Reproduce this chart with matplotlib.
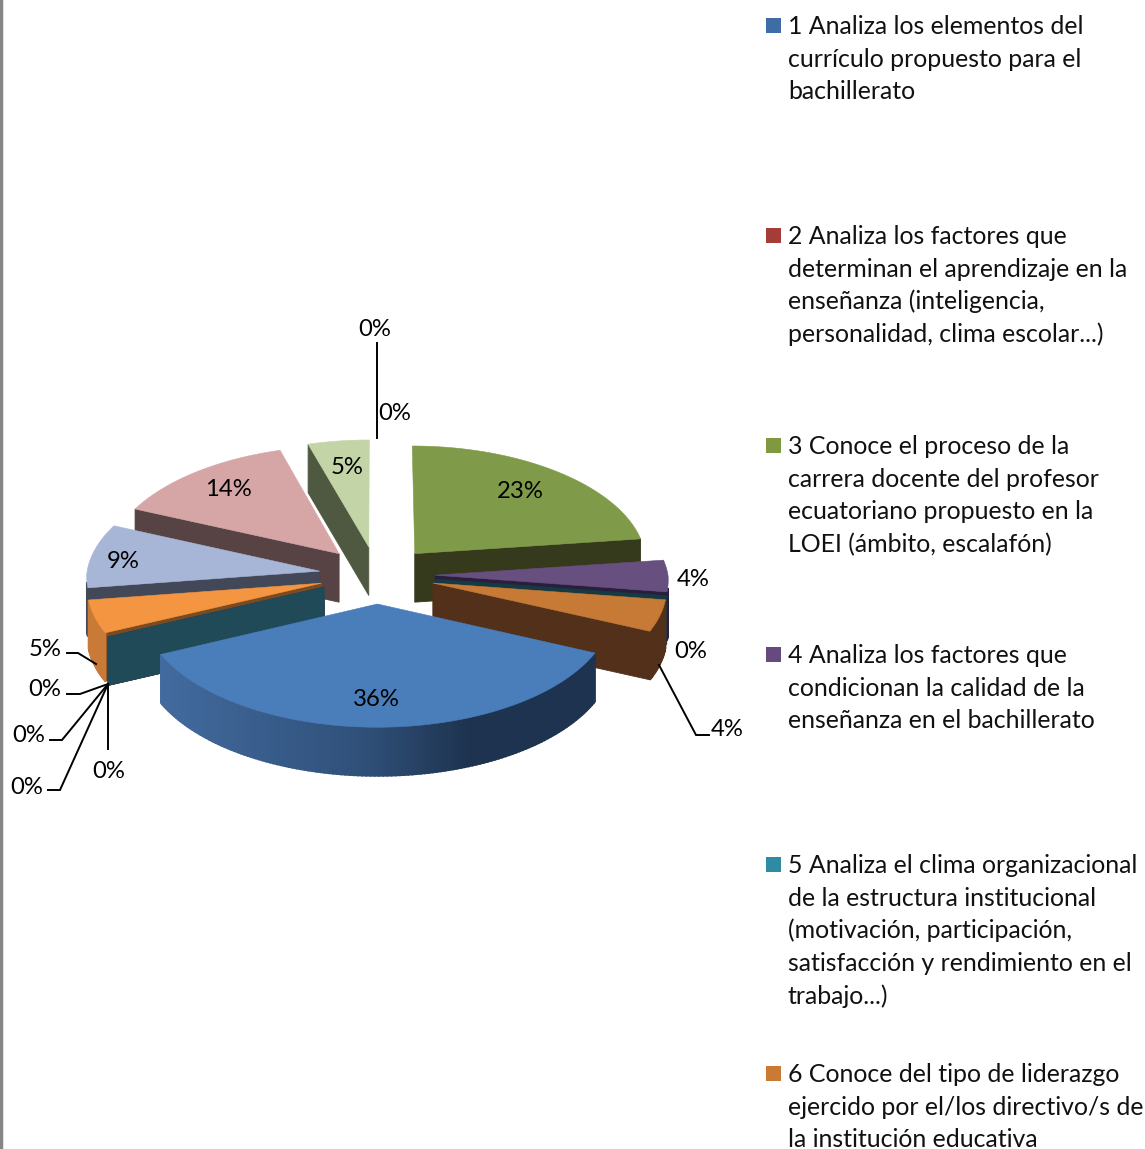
#!/usr/bin/env python
import numpy as np
import matplotlib
matplotlib.use('Agg')
import matplotlib.pyplot as plt
from matplotlib.colors import to_rgb

plt.rcParams['font.family'] = ['Lato', 'DejaVu Sans']

# ====================================
# Data, in the order of the legend series
# ====================================
values = [0, 0, 22.9, 4.4, 0, 4.4, 36.4, 0, 0, 0, 0, 4.6, 8.9, 13.8, 4.6]

top_colors = ['#4f81bd', '#c0504d', '#7f9a48', '#674f80', '#2f8aa3', '#c77a36', '#4a7ebb', '#c0504d',
              '#9bbb59', '#8064a2', '#2f6f80', '#f39541', '#a7b6d6', '#d6a5a5', '#c3d4a7']
wall_colors = ['#2a4563', '#632a28', '#343a1b', '#2a1e3d', '#153a44', '#52301a', '#1e334f', '#632a28',
               '#4a5a2a', '#40325a', '#204a58', '#7a4a20', '#424857', '#574343', '#4f5840']
arc_colors = list(wall_colors)
arc_colors[11] = '#c87a36'

legend_colors = ['#3f6ca5', '#a63c38', '#80993f', '#65497f', '#2f8aa3', '#c97a35']
legend_labels = [
    ['1 Analiza los elementos del', 'currículo propuesto para el', 'bachillerato'],
    ['2 Analiza los factores que', 'determinan el aprendizaje en la', 'enseñanza (inteligencia,',
     'personalidad, clima escolar...)'],
    ['3 Conoce el proceso de la', 'carrera docente del profesor', 'ecuatoriano propuesto en la',
     'LOEI (ámbito, escalafón)'],
    ['4 Analiza los factores que', 'condicionan la calidad de la', 'enseñanza en el bachillerato'],
    ['5 Analiza el clima organizacional', 'de la estructura institucional', '(motivación, participación,',
     'satisfacción y rendimiento en el', 'trabajo...)'],
    ['6 Conoce del tipo de liderazgo', 'ejercido por el/los directivo/s de', 'la institución educativa'],
]
legend_y = [25, 235, 445, 654, 864, 1073]

# label centres, same order as values
label_xy = [(375, 329), (395, 413), (520, 491), (693, 579), (691, 651), (727, 729), (376, 699), (109, 772),
            (27, 787), (29, 735), (45, 689), (45, 649), (123, 561), (228, 490), (347, 467)]

leaders = [
    [(67, 653), (78, 653), (96, 664)],
    [(67, 694), (80, 694), (108, 684)],
    [(50, 740), (62, 740), (108, 684)],
    [(48, 790), (60, 790), (108, 684)],
    [(108, 749), (108, 684)],
    [(709, 735), (696, 735), (659, 665)],
    [(377, 343), (377, 438)],
]

# ====================================
# Pie geometry
# ====================================
cx, cy = 377, 575
radius = 233
explode = 58
depth = 48.5
font_size = 17.2
legend_font_size = 17.9


def project(X, Y, drop=0):
    # plane coordinates to screen, slight perspective
    X = np.asarray(X, dtype=float)
    Y = np.asarray(Y, dtype=float)
    shrink = np.where(Y > 0, 0.00028, 0.00015)
    return cx + X*(1 - shrink*Y), cy - Y*(0.494 - 0.0001*Y) + drop


def arc_points(a0, a1, ox, oy):
    th = np.radians(np.linspace(a0, a1, max(2, int(abs(a1 - a0)) + 2)))
    return ox + radius*np.sin(th), oy + radius*np.cos(th)


fig = plt.figure(figsize=(11.45, 11.49), dpi=100)
ax = fig.add_axes([0, 0, 1, 1])
ax.set_xlim(0, 1145)
ax.set_ylim(1149, 0)
ax.axis('off')

# ====================================
# Slices, back to front
# ====================================
fractions = np.array(values)/np.sum(values)
ends = np.cumsum(fractions)*360
starts = ends - fractions*360
mids = (starts + ends)/2
order = np.argsort(-np.cos(np.radians(mids)), kind='stable')


def fill_quad(x0, y0, x1, y1, color, lw=0.6):
    sx0, sy0 = project(x0, y0)
    sx1, sy1 = project(x1, y1)
    ax.fill([sx0, sx1, sx1, sx0], [sy0, sy1, sy1 + depth, sy0 + depth], color=color, lw=lw, zorder=2)


blue_left = np.array(to_rgb('#426b9f'))
blue_mid = np.array(to_rgb('#2f4f78'))
blue_right = np.array(to_rgb('#1e334f'))

for i in order:
    a0, a1, mid = starts[i], ends[i], mids[i]
    ox = explode*np.sin(np.radians(mid))
    oy = explode*np.cos(np.radians(mid))

    # radial walls that face the viewer
    if np.cos(np.radians(a0 - 90)) < -1e-3:
        ex, ey = arc_points(a0, a0, ox, oy)
        fill_quad(ox, oy, ex[0], ey[0], wall_colors[i])
    if np.cos(np.radians(a1 + 90)) < -1e-3:
        ex, ey = arc_points(a1, a1, ox, oy)
        fill_quad(ox, oy, ex[0], ey[0], wall_colors[i])

    # outer wall, in short steps, front part only
    if a1 > a0:
        ex, ey = arc_points(a0, a1, ox, oy)
        for j in range(len(ex) - 1):
            if ey[j] - oy > -0.1*radius:
                continue
            color = arc_colors[i]
            if i == 6:
                sx = project(ex[j], ey[j])[0]
                if sx > 470:
                    color = blue_right
                elif sx > 370:
                    color = blue_mid + (blue_right - blue_mid)*(sx - 370)/100
                else:
                    color = blue_mid + (blue_left - blue_mid)*(370 - sx)/210
            fill_quad(ex[j], ey[j], ex[j + 1], ey[j + 1], color, lw=1.4)

        # top face
        px = np.concatenate([[ox], ex])
        py = np.concatenate([[oy], ey])
        sx, sy = project(px, py)
        ax.fill(sx, sy, color=top_colors[i], lw=0.4, zorder=2)

# ====================================
# Leader lines and labels
# ====================================
for pts in leaders:
    xs, ys = zip(*pts)
    ax.plot(xs, ys, color='k', lw=1.4, zorder=3, solid_joinstyle='miter')

for v, (lx, ly) in zip(values, label_xy):
    ax.text(lx, ly, '{:.0f}%'.format(v), ha='center', va='center', fontsize=font_size, color='k', zorder=4)

# ====================================
# Legend, cut by the edge of the picture
# ====================================
for lines, color, y0 in zip(legend_labels, legend_colors, legend_y):
    ax.fill([766, 781, 781, 766], [y0 - 7, y0 - 7, y0 + 8, y0 + 8], color=color, lw=0, zorder=2)
    for n, line in enumerate(lines):
        ax.text(788, y0 + 1.5 + n*32.6, line, ha='left', va='center', fontsize=legend_font_size,
                color='#111111', zorder=4)

# left border of the page
ax.plot([1, 1], [0, 1149], color='#868686', lw=2.5, zorder=1)

fig.savefig('out.png', dpi=100)
